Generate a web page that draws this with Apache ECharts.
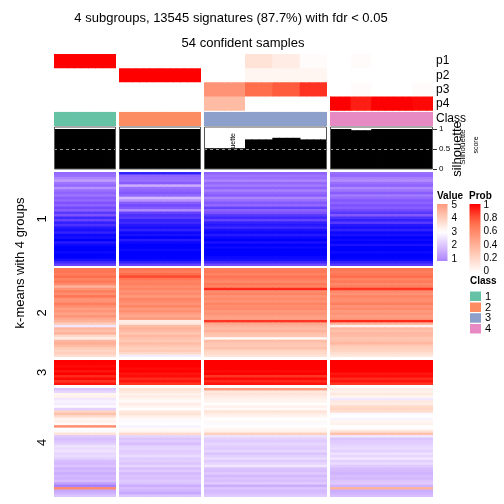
<!DOCTYPE html>
<html><head><meta charset="utf-8">
<script src="https://cdn.jsdelivr.net/npm/echarts@6/dist/echarts.min.js"></script>
<style>html,body{margin:0;padding:0;background:#fff}#c{width:504px;height:504px}</style>
</head><body><div id="c"></div>
<script>
// ---------------- DATA ----------------
const titleText = '4 subgroups, 13545 signatures (87.7%) with fdr < 0.05';
const subtitleText = '54 confident samples';
const rowTitle = 'k-means with 4 groups';
const classLabels = ['1', '2', '3', '4'];
const classColors = ['#66C2A5', '#FC8D62', '#8DA0CB', '#E78AC3'];
const probRows = ['p1', 'p2', 'p3', 'p4'];

// class of each of the 54 samples (ordered as in the picture)
const sampleClass = [
  1,1,1,1,1,1,1,1,1,
  2,2,2,2,2,2,2,2,2,2,2,2,
  3,3,3,3,3,3,3,3,3,3,3,3,3,3,3,3,3,3,
  4,4,4,4,4,4,4,4,4,4,4,4,4,4,4
];
const p1 = [
  1,1,1,1,1,1,1,1,1,
  0,0,0,0,0,0,0,0,0,0,0,0,
  0,0,0,0,0,0,0.15,0.15,0.15,0.15,0.1,0.1,0.1,0.1,0.02,0.02,0.02,0.02,
  0,0,0,0.02,0.02,0.02,0,0,0,0,0,0,0,0,0
];
const p2 = [
  0,0,0,0,0,0,0,0,0,
  1,1,1,1,1,1,1,1,1,1,1,1,
  0,0,0,0,0,0,0.05,0.05,0.05,0.05,0.05,0.05,0.05,0.05,0.05,0.05,0.05,0.05,
  0,0,0,0,0,0,0,0,0,0,0,0,0,0,0
];
const p3 = [
  0,0,0,0,0,0,0,0,0,
  0,0,0,0,0,0,0,0,0,0,0,0,
  0.55,0.55,0.55,0.55,0.55,0.55,0.72,0.72,0.72,0.72,0.78,0.78,0.78,0.78,0.88,0.88,0.88,0.88,
  0,0,0,0.02,0.02,0.02,0,0,0,0,0,0,0.02,0.02,0.02
];
const p4 = [
  0,0,0,0,0,0,0,0,0,
  0,0,0,0,0,0,0,0,0,0,0,0,
  0.35,0.35,0.35,0.35,0.35,0.35,0,0,0,0,0,0,0,0,0,0,0,0,
  1,1,1,0.93,0.93,0.93,1,1,1,1,1,1,0.98,0.98,0.98
];
const silhouette = [
  1,1,1,1,1,1,1,1,1,
  1,1,1,1,1,1,1,1,1,1,1,1,
  0.52,0.52,0.52,0.52,0.52,0.52,0.74,0.74,0.74,0.74,0.78,0.78,0.78,0.78,0.74,0.74,0.74,0.74,
  1,1,1,0.97,0.97,0.97,1,1,1,1,1,1,1,1,1
];
const silTicks = [0, 0.5, 1];
const valueTicks = [5, 4, 3, 2, 1];
const probTicks = ['1', '0.8', '0.6', '0.4', '0.2', '0'];

// signature rows (top to bottom) of each k-means group; columns = value in sample class 1..4
const km1 = [
  [0.4,-0.6,0.3,0.5],[0.5,0.3,0.6,0.4],[0.9,0.4,0.5,0.8],[1.3,0.5,0.9,1.0],[0.6,0.2,0.4,0.5],
  [0.4,1.6,0.7,0.3],[1.1,0.5,0.3,0.9],[0.5,0.3,0.8,0.6],[0.3,0.1,0.4,0.2],[0.6,0.4,0.2,0.7],
  [0.2,1.8,0.9,0.4],[0.4,1.1,0.5,0.1],[0.0,0.2,0.1,0.3],[0.3,-0.1,0.4,0.0],[-0.1,0.1,-0.2,0.2],
  [0.2,1.0,0.3,-0.1],[-0.3,-0.2,0.0,-0.3],[0.0,-0.4,-0.3,0.1],[-0.5,-0.3,-0.5,-0.4],[-0.2,-0.6,-0.2,-0.6],
  [-0.6,-0.5,-0.6,-0.3],[-0.4,-0.7,-0.7,-0.7],[-0.7,-0.8,-0.5,-0.8],[-0.8,-0.6,-0.8,-0.6],[-0.6,-0.9,-0.9,-0.9],
  [-0.9,-0.8,-0.7,-0.8],[-0.8,-1.0,-0.9,-1.0],[-1.0,-0.7,-1.0,-0.9],[-0.7,-0.9,-0.8,-1.0],[-0.9,-1.0,-1.0,-0.8],
  [-1.0,-1.0,-0.9,-1.0],[-1.0,-0.9,-1.0,-1.0],[-0.9,-1.0,-1.0,-0.9],[-1.0,-1.0,-1.0,-1.0],[-1.0,-1.0,-0.9,-1.0],
  [-0.8,-0.9,-0.8,-0.9],[-0.5,-0.6,-0.5,-0.6],[-0.2,-0.2,-0.1,-0.3]
];
const km2 = [
  [5.7,5.8,5.6,5.8],[5.8,5.6,5.7,5.6],[5.6,5.9,5.5,5.7],[5.9,6.3,5.8,5.9],[5.5,5.7,5.6,5.5],
  [5.7,5.5,5.4,5.7],[5.4,5.6,5.7,5.4],[4.6,5.3,5.5,5.6],[5.2,5.5,6.6,6.5],[5.6,5.2,5.3,5.4],
  [5.3,5.4,5.5,5.2],[5.8,5.1,5.2,5.5],[5.2,5.5,5.4,5.3],[5.2,5.4,5.2,5.3],[5.6,5.2,5.5,5.6],
  [5.3,5.5,5.3,5.2],[5.0,5.1,5.4,5.4],[5.2,5.3,5.1,5.1],[4.9,5.0,5.2,5.2],[5.2,4.8,5.0,5.0],
  [4.8,5.1,4.9,5.1],[4.6,3.4,6.5,6.6],[4.1,3.5,4.8,4.6],[2.6,4.4,4.6,3.3],[4.5,4.6,4.4,4.5],
  [4.3,4.4,4.6,4.3],[4.6,4.2,4.3,4.5],[3.8,4.5,4.2,4.4],[3.4,4.3,3.1,4.2],[4.5,4.1,4.4,4.3],
  [4.7,4.4,4.2,4.5],[4.4,4.2,4.1,4.1],[4.1,4.0,4.3,4.0],[3.9,4.1,3.9,3.9],[4.0,3.8,3.8,3.7],
  [3.7,2.7,3.6,3.5]
];
const km3 = [
  [7,7,7,7],[7,7,7,7],[6.9,7,7,7],[7,6.9,7,7],[6.8,7,6.9,7],
  [7,6.8,7,6.8],[6.6,6.9,6.5,6.9],[6.9,6.6,6.9,6.6],[6.5,6.8,6.6,6.8],[6.8,6.5,6.8,6.5]
];
const km4 = [
  [2.0,3.6,5.0,3.4],[2.3,3.5,3.5,3.3],[3.2,3.3,3.6,3.5],[3.3,3.4,3.4,3.2],[2.6,3.2,3.3,2.6],
  [2.8,3.1,3.2,3.5],[2.7,3.4,3.0,3.4],[2.9,3.2,3.3,3.8],[2.2,3.0,3.1,3.9],[3.9,3.5,3.6,3.7],
  [4.3,3.6,3.4,2.9],[3.7,3.3,3.2,3.0],[3.2,3.1,3.0,2.8],[3.3,2.9,3.1,3.2],[3.1,3.0,2.9,3.3],
  [5.3,2.8,3.0,3.0],[3.0,3.1,3.2,3.1],[2.9,3.2,3.3,3.6],[3.6,3.8,4.0,4.3],[2.1,2.3,2.5,2.6],
  [1.9,2.0,2.2,2.0],[2.0,2.1,2.1,2.1],[2.2,1.9,2.3,2.2],[2.5,2.2,2.2,2.3],[2.4,2.3,2.1,2.4],
  [2.5,2.1,2.3,2.2],[2.3,2.2,2.0,2.5],[2.4,2.4,2.2,2.3],[2.2,2.1,2.4,2.6],[1.9,2.2,2.1,2.2],
  [1.8,2.0,2.3,2.4],[2.0,2.3,2.6,2.1],[1.7,1.9,2.0,1.9],[1.8,2.1,1.9,1.8],[1.6,1.8,2.1,1.7],
  [1.8,2.0,1.8,1.9],[1.7,1.9,2.0,1.8],[1.9,2.1,1.9,2.0],[1.4,2.0,2.1,2.1],[0.8,1.6,1.6,1.7],
  [5.3,1.9,2.0,4.6],[1.5,1.7,1.8,1.6],[1.7,1.5,1.9,1.7],[2.0,2.0,2.1,1.9]
];
const kmLabels = ['1', '2', '3', '4'];

// ---------------- STYLE / LAYOUT ----------------
const FONT = "'Liberation Sans', Arial, Helvetica, sans-serif";
const valueMin = -1, valueMax = 7;
const valueColors = ['#0000FF','#7E52FF','#B28BFF','#DCC4FF','#FFFFFF','#FFD0BD','#FF9E82','#FF6946','#FF0000'];
const probColors = ['#FFFFFF','#FFD0BD','#FF9E82','#FF6946','#FF0000'];
const colX = [[54,116],[119,201],[204,327],[330,433]];
const rowY = [[172,266],[268,357],[360,385],[388,497]];
const kmRows = [km1, km2, km3, km4];

function hex2rgb(h){return [parseInt(h.substr(1,2),16),parseInt(h.substr(3,2),16),parseInt(h.substr(5,2),16)];}
function rampColor(cols, t){
  t = Math.max(0, Math.min(1, t));
  const n = cols.length - 1, f = t * n, i = Math.min(n - 1, Math.floor(f)), u = f - i;
  const a = hex2rgb(cols[i]), b = hex2rgb(cols[i+1]);
  return 'rgb(' + a.map((v,k)=>Math.round(v + (b[k]-v)*u)).join(',') + ')';
}
// cell renderer: one rect per category cell, slightly overlapping the next cell to avoid seams
function cellRender(params, api){
  const p = api.coord([api.value(0), api.value(1)]);
  const s = api.size([1, 1]);
  return {type:'rect', shape:{x:p[0]-s[0]/2, y:p[1]-s[1]/2, width:s[0]+0.8, height:s[1]+0.8},
    style:{fill:api.visual('color')}};
}
function barRender(params, api){
  const top = api.coord([api.value(0), api.value(1)]);
  const bot = api.coord([api.value(0), 0]);
  const s = api.size([1, 0]);
  return {type:'rect', shape:{x:top[0]-s[0]/2, y:top[1], width:s[0]+0.8, height:bot[1]-top[1]},
    style:{fill:'#000'}};
}

const grids = [], xAxes = [], yAxes = [], series = [];
const heatIdx = [], probIdx = [], classIdx = [];
function addGrid(left, top, width, height){
  grids.push({left, top, width, height, containLabel:false});
  return grids.length - 1;
}
function cellSeries(gi, data){
  return {type:'custom', xAxisIndex:gi, yAxisIndex:gi, data, renderItem:cellRender, clip:true,
    encode:{x:0, y:1}, silent:true};
}
const classSamples = [0,1,2,3].map(c => sampleClass.map((v,i)=> v === c+1 ? i : -1).filter(i => i >= 0));

for (let g = 0; g < 4; g++) {
  const idx = classSamples[g];
  const x0 = colX[g][0], w = colX[g][1] - colX[g][0];
  const xcats = idx.map(String);
  // probability rows
  let gi = addGrid(x0, 54, w, 56.7);
  xAxes.push({type:'category', gridIndex:gi, data:xcats, show:false});
  yAxes.push({type:'category', gridIndex:gi, data:probRows, inverse:true, show:false});
  const pd = [];
  idx.forEach((s,i) => [p1,p2,p3,p4].forEach((arr,k) => pd.push([i,k,arr[s]])));
  probIdx.push(series.length);
  series.push(cellSeries(gi, pd));
  // class row
  gi = addGrid(x0, 111.7, w, 14.3);
  xAxes.push({type:'category', gridIndex:gi, data:xcats, show:false});
  yAxes.push({type:'category', gridIndex:gi, data:['Class'], show:false});
  classIdx.push(series.length);
  series.push(cellSeries(gi, idx.map((s,i)=>[i,0,sampleClass[s]])));
  // silhouette
  gi = addGrid(x0, 127, w, 42);
  xAxes.push({type:'category', gridIndex:gi, data:xcats, show:false});
  yAxes.push({type:'value', gridIndex:gi, min:0, max:1.05, show: g === 3, position:'right',
    splitLine:{show:false}, axisLine:{show:false},
    axisTick:{show:true, length:4, customValues:silTicks, lineStyle:{color:'#333'}},
    axisLabel:{fontSize:8, margin:6, color:'#000', fontFamily:FONT, customValues:silTicks}});
  series.push({type:'custom', xAxisIndex:gi, yAxisIndex:gi, data: idx.map((s,i)=>[i, silhouette[s]]),
    renderItem:barRender, clip:true, encode:{x:0, y:1}, silent:true, z:2});
  series.push({type:'bar', xAxisIndex:gi, yAxisIndex:gi, data: idx.map(()=>null), silent:true, z:10,
    markLine:{silent:true, symbol:'none', label:{show:false}, lineStyle:{color:'#999', type:[3,3], width:1}, data:[{yAxis:0.5}]}});
  // heatmap blocks
  for (let r = 0; r < 4; r++) {
    const rows = kmRows[r];
    gi = addGrid(x0, rowY[r][0], w, rowY[r][1] - rowY[r][0]);
    xAxes.push({type:'category', gridIndex:gi, data:xcats, show:false});
    yAxes.push({type:'category', gridIndex:gi, data: rows.map((_,j)=>String(j)), inverse:true, show:false});
    const hd = [];
    rows.forEach((row,j) => idx.forEach((s,i) => hd.push([i, j, row[g]])));
    heatIdx.push(series.length);
    series.push(cellSeries(gi, hd));
  }
}

// ---------------- TEXT / LEGENDS ----------------
const graphics = [];
function txt(text, x, y, o){
  o = o || {};
  graphics.push({type:'text', x, y, rotation:o.rot||0, z:(o.z===undefined?100:o.z), silent:true,
    style:{text, fill:'#000', font:(o.bold?'bold ':'') + (o.size||13) + 'px ' + FONT, align:o.align||'center', verticalAlign:'middle'}});
}
txt(titleText, 231, 18);
txt(subtitleText, 243, 43);
txt(rowTitle, 20, 263, {rot:Math.PI/2});
const kmLabelY = [219, 313, 372.5, 442.5];
kmLabels.forEach((t,i)=> txt(t, 42, kmLabelY[i], {rot:Math.PI/2}));
const pLabelY = [61, 75.4, 89.6, 103.8];
probRows.forEach((t,i)=> txt(t, 436, pLabelY[i], {align:'left', size:12}));
txt('Class', 436, 119, {align:'left', size:12});
// silhouette axis titles
txt('silhouette', 457, 149, {rot:Math.PI/2, size:13});
txt('Silhouette', 462.5, 147, {rot:Math.PI/2, size:8});
txt('score', 476, 145, {rot:Math.PI/2, size:7});
txt('silhouette', 233, 148, {rot:Math.PI/2, size:7, z:0});
// silhouette boxes
colX.forEach(([a,b]) => graphics.push({type:'rect', z:100, silent:true, shape:{x:a+0.5, y:127, width:b-a-1, height:42},
  style:{fill:null, stroke:'#555', lineWidth:1}}));
// value legend
txt('Value', 437, 196, {align:'left', size:10, bold:true});
const vTop = 204, vBot = 261, v5y = 205, vStep = 13.5;
const vStops = [];
for (let k = 0; k <= 20; k++) {
  const y = vTop + (vBot - vTop) * k / 20;
  const v = 5 - (y - v5y) / vStep;
  vStops.push({offset:k/20, color: rampColor(valueColors, (v - valueMin) / (valueMax - valueMin))});
}
graphics.push({type:'rect', z:100, silent:true, shape:{x:437, y:vTop, width:10.5, height:vBot-vTop},
  style:{fill:{type:'linear', x:0, y:0, x2:0, y2:1, colorStops:vStops}}});
valueTicks.forEach((v,i)=> txt(String(v), 451.5, v5y + i*vStep, {align:'left', size:10}));
// prob legend
txt('Prob', 469, 196, {align:'left', size:10, bold:true});
const pTop = 204, pBot = 273;
const pStops = [];
for (let k = 0; k <= 10; k++) pStops.push({offset:k/10, color: rampColor(probColors, 1 - k/10)});
graphics.push({type:'rect', z:100, silent:true, shape:{x:469.5, y:pTop, width:11, height:pBot-pTop},
  style:{fill:{type:'linear', x:0, y:0, x2:0, y2:1, colorStops:pStops}}});
probTicks.forEach((t,i)=> txt(t, 483.5, 205 + i*13.3, {align:'left', size:10}));
// class legend
txt('Class', 470, 281, {align:'left', size:10, bold:true});
const clsBoxY = [291.5, 302.5, 313.2, 324];
classLabels.forEach((t,i)=>{
  graphics.push({type:'rect', z:100, silent:true, shape:{x:470, y:clsBoxY[i], width:11, height:9.5}, style:{fill:classColors[i]}});
  txt(t, 485, clsBoxY[i] + 5, {align:'left', size:11});
});

const chart = echarts.init(document.getElementById('c'), null, {renderer:'canvas'});
chart.setOption({
  animation:false,
  backgroundColor:'#fff',
  grid:grids, xAxis:xAxes, yAxis:yAxes,
  visualMap:[
    {type:'continuous', show:false, min:valueMin, max:valueMax, dimension:2, seriesIndex:heatIdx, inRange:{color:valueColors}},
    {type:'continuous', show:false, min:0, max:1, dimension:2, seriesIndex:probIdx, inRange:{color:probColors}},
    {type:'piecewise', show:false, dimension:2, seriesIndex:classIdx, pieces:classLabels.map((c,i)=>({value:i+1, color:classColors[i]}))}
  ],
  series:series,
  graphic:graphics
});
</script>
</body></html>
